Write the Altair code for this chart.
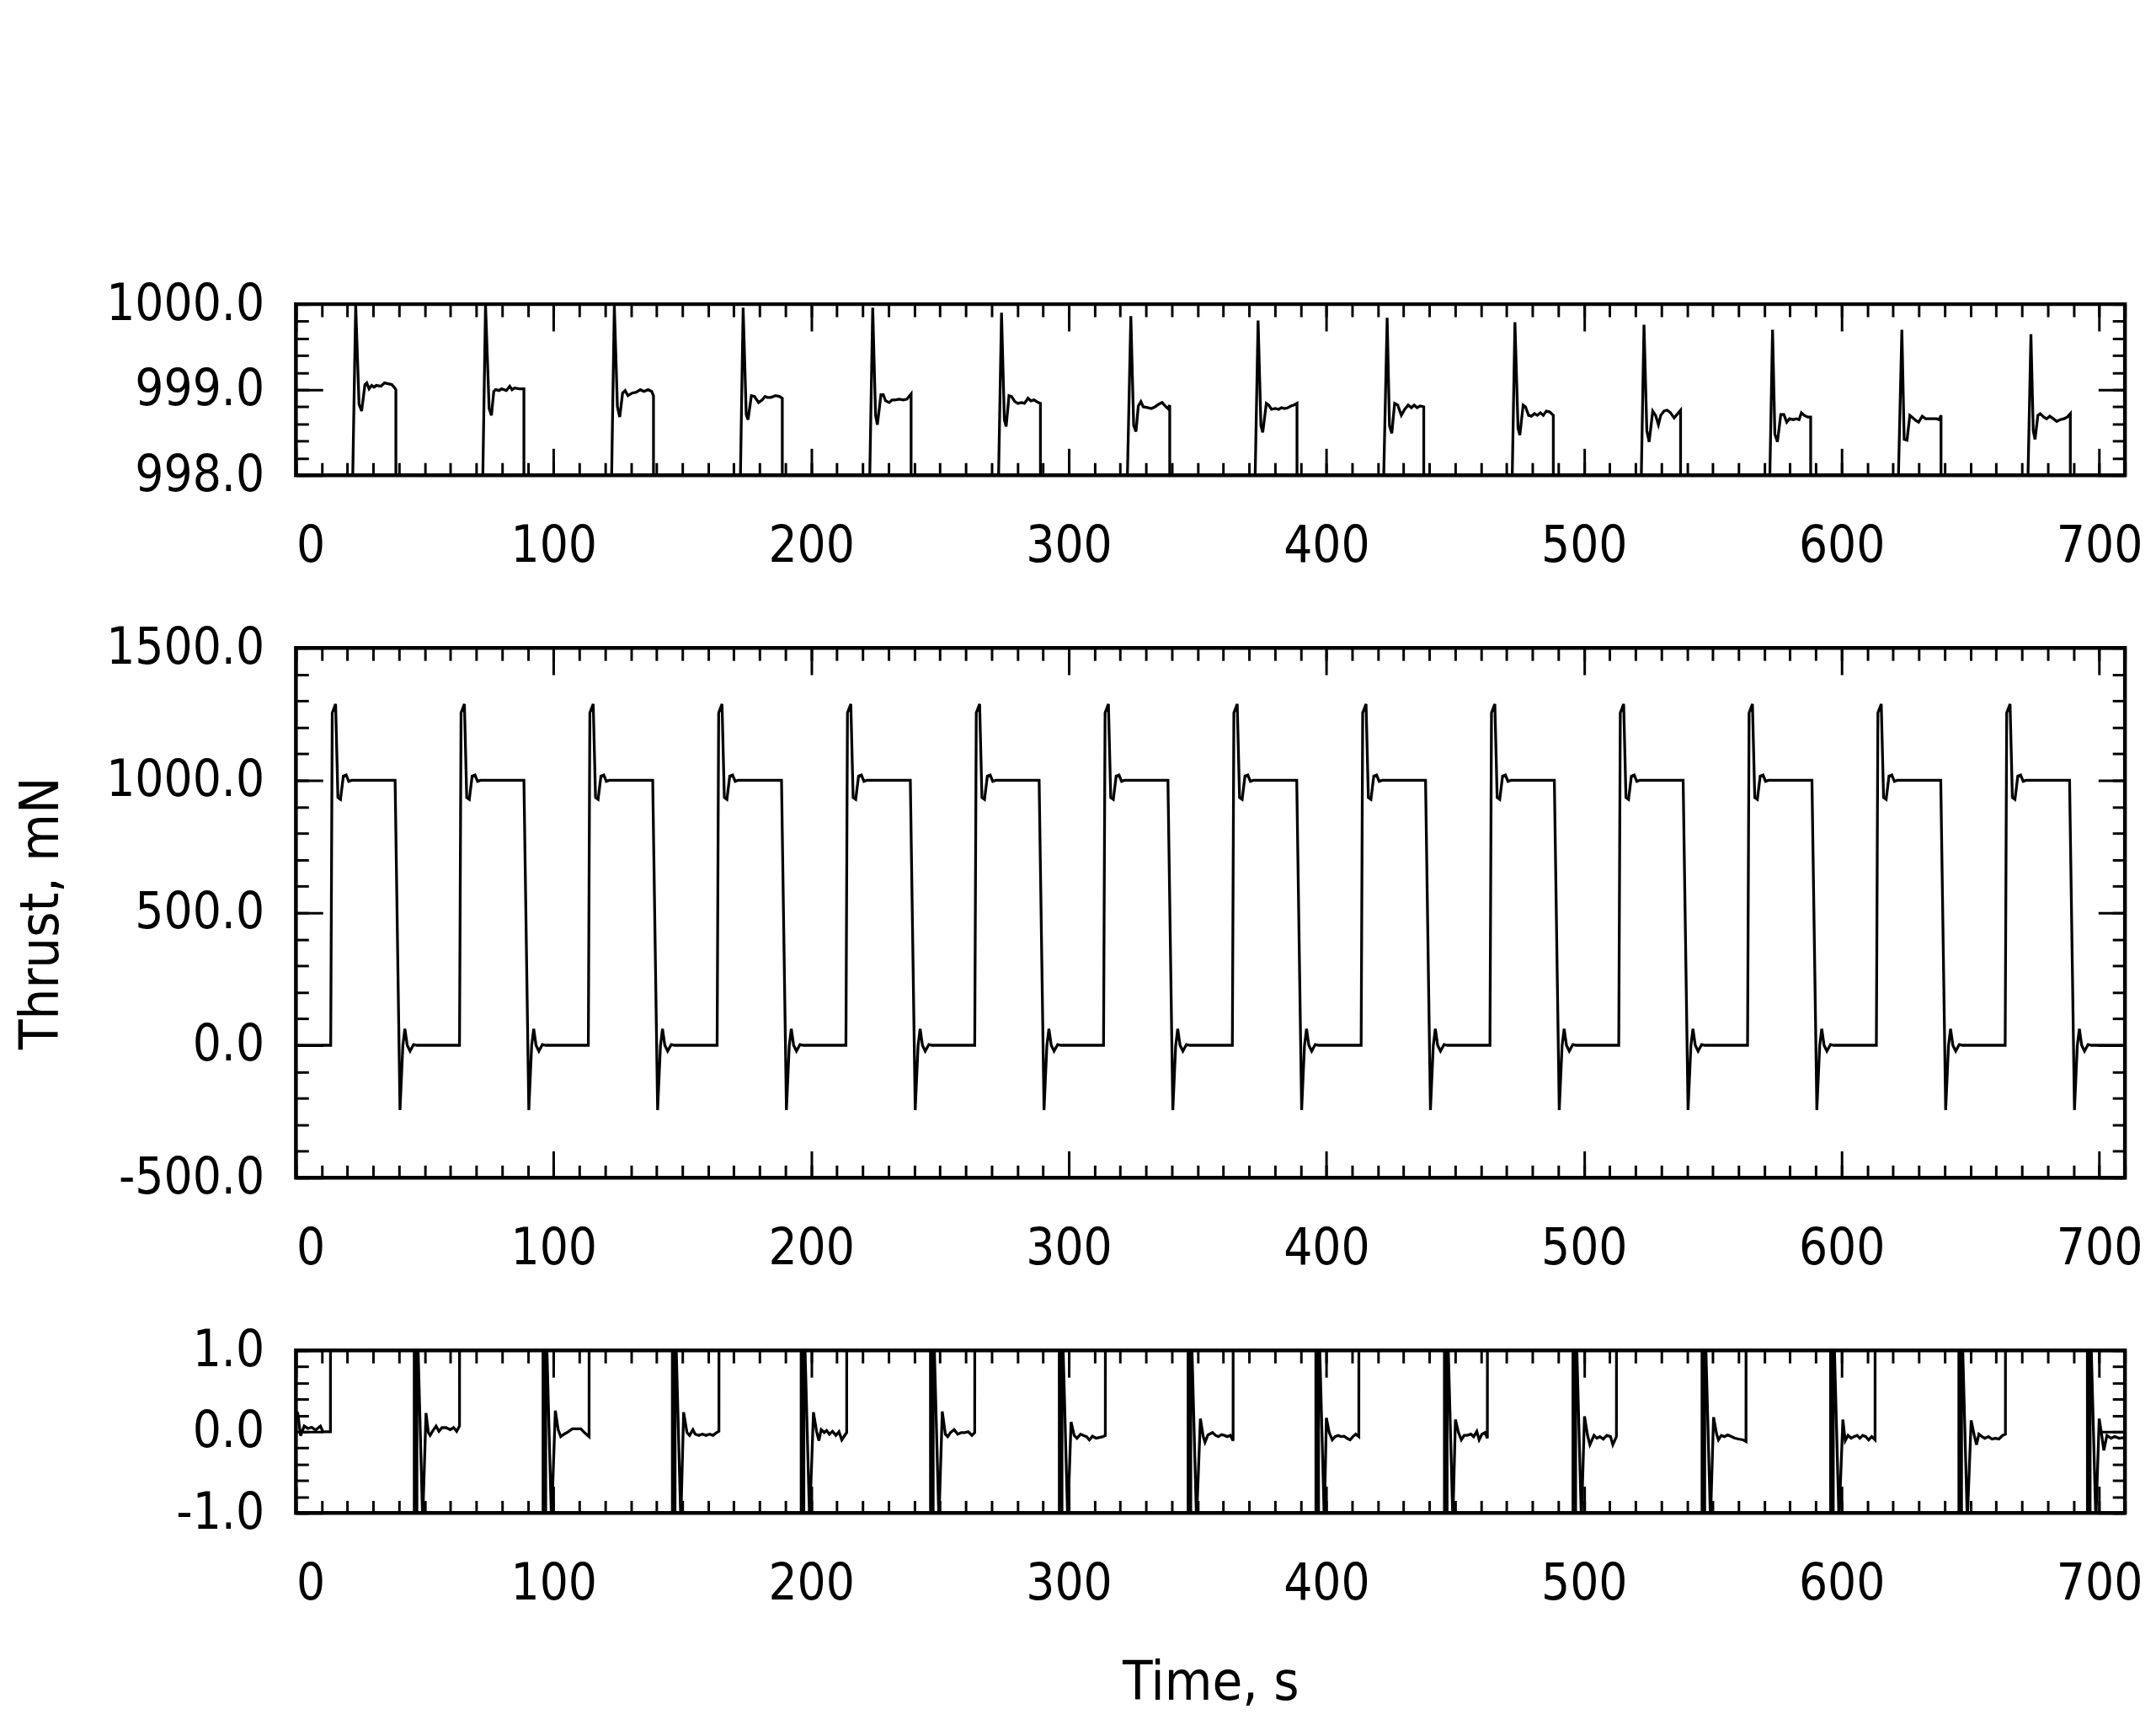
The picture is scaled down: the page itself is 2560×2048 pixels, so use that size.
import altair as alt
import pandas as pd

FONT = "DejaVu Sans Condensed, DejaVu Sans"

# ---------------- x axis ----------------
x_domain = [0, 710]
x_major = [0, 100, 200, 300, 400, 500, 600, 700]
x_minor = list(range(0, 711, 10))

# ---------------- top panel (998..1000 mN) ----------------
top_start_t = [0.0]
top_start_v = [0.0]
top_cycles_t = [
    [21.95, 22.0, 23.2, 24.5, 25.5, 26.8, 27.5, 28.4, 29.4, 30.3, 31.2, 33.0, 34.4, 35.8, 37.2, 38.1, 38.8, 38.85],
    [72.45, 72.5, 73.6, 75.0, 75.9, 76.8, 77.5, 78.9, 79.8, 81.7, 83.0, 83.9, 84.9, 86.7, 88.5, 88.55],
    [122.45, 122.5, 123.6, 124.8, 125.7, 126.8, 127.8, 128.9, 130.5, 132.1, 133.7, 135.1, 136.7, 138.1, 138.8, 138.85],
    [172.45, 172.5, 173.6, 174.8, 175.5, 176.8, 178.0, 179.6, 181.0, 182.1, 183.0, 184.4, 186.2, 187.8, 188.8, 188.85],
    [222.65, 222.7, 223.9, 225.0, 225.7, 227.1, 228.0, 228.9, 230.3, 231.4, 232.6, 234.2, 235.8, 237.2, 238.8, 238.85],
    [272.65, 272.7, 273.9, 275.0, 275.7, 276.8, 277.8, 279.1, 280.3, 281.7, 282.8, 284.2, 285.3, 286.5, 288.1, 289.0, 289.05],
    [322.65, 322.7, 324.1, 325.2, 326.1, 327.0, 328.0, 328.9, 330.5, 332.1, 333.5, 334.9, 336.2, 337.4, 338.5, 339.2, 339.25],
    [372.25, 372.3, 373.5, 374.6, 375.3, 376.7, 377.6, 378.7, 380.1, 381.5, 382.6, 383.8, 385.1, 386.3, 387.4, 388.6, 388.65],
    [422.15, 422.2, 423.6, 424.5, 425.4, 426.5, 427.7, 429.1, 430.4, 431.8, 433.0, 434.1, 435.2, 436.4, 437.8, 437.85],
    [472.05, 472.1, 473.2, 474.4, 475.1, 476.4, 477.3, 478.5, 479.6, 480.8, 481.9, 483.1, 484.2, 485.4, 486.7, 488.1, 488.15],
    [522.15, 522.2, 523.3, 524.4, 525.3, 526.7, 527.8, 528.9, 529.8, 531.1, 532.3, 533.6, 535.0, 536.4, 537.5, 537.55],
    [572.05, 572.1, 573.2, 574.1, 575.1, 576.4, 577.6, 578.7, 579.8, 581.2, 582.4, 583.5, 584.4, 585.5, 586.9, 588.0, 588.05],
    [621.95, 622.0, 623.4, 624.3, 625.4, 626.5, 627.7, 628.8, 629.9, 631.3, 632.6, 634.0, 635.5, 636.8, 637.9, 638.6, 638.65],
    [672.25, 672.3, 673.5, 674.4, 675.1, 676.2, 677.1, 678.5, 679.6, 680.8, 682.2, 683.5, 684.9, 686.3, 687.6, 688.8, 688.85],
]
top_cycles_v = [
    [0, 997.9, 999.99, 998.83, 998.75, 999.06, 999.08, 999.01, 999.05, 999.03, 999.05, 999.04, 999.08, 999.07, 999.06, 999.03, 999.00, 0],
    [0, 997.9, 999.99, 998.78, 998.70, 998.98, 999.00, 998.99, 999.01, 998.99, 999.04, 999.00, 999.02, 999.01, 999.01, 0],
    [0, 997.9, 999.98, 998.80, 998.68, 998.96, 998.99, 998.93, 998.96, 998.97, 999.00, 998.98, 999.00, 998.98, 998.93, 0],
    [0, 997.9, 999.96, 998.71, 998.65, 998.93, 998.92, 998.85, 998.88, 998.92, 998.91, 998.91, 998.93, 998.92, 998.90, 0],
    [0, 997.9, 999.96, 998.70, 998.59, 998.94, 998.94, 998.87, 998.85, 998.88, 998.88, 998.89, 998.88, 998.89, 998.95, 0],
    [0, 997.9, 999.90, 998.65, 998.57, 998.93, 998.92, 998.86, 998.84, 998.85, 998.84, 998.90, 998.87, 998.88, 998.85, 998.84, 0],
    [0, 997.9, 999.86, 998.58, 998.51, 998.81, 998.86, 998.80, 998.79, 998.78, 998.80, 998.83, 998.85, 998.81, 998.78, 998.82, 0],
    [0, 997.9, 999.81, 998.58, 998.50, 998.84, 998.82, 998.77, 998.78, 998.77, 998.79, 998.78, 998.79, 998.81, 998.82, 998.84, 0],
    [0, 997.9, 999.84, 998.58, 998.49, 998.84, 998.82, 998.70, 998.77, 998.82, 998.79, 998.82, 998.79, 998.81, 998.80, 0],
    [0, 997.9, 999.79, 998.55, 998.47, 998.82, 998.80, 998.70, 998.69, 998.72, 998.70, 998.73, 998.70, 998.75, 998.74, 998.70, 0],
    [0, 997.9, 999.76, 998.52, 998.39, 998.75, 998.70, 998.59, 998.70, 998.75, 998.76, 998.73, 998.67, 998.72, 998.76, 0],
    [0, 997.9, 999.70, 998.48, 998.39, 998.71, 998.71, 998.62, 998.66, 998.65, 998.66, 998.65, 998.73, 998.70, 998.68, 998.68, 0],
    [0, 997.9, 999.70, 998.42, 998.41, 998.70, 998.67, 998.64, 998.62, 998.69, 998.66, 998.66, 998.66, 998.66, 998.65, 998.70, 0],
    [0, 997.9, 999.65, 998.52, 998.42, 998.70, 998.72, 998.68, 998.66, 998.69, 998.66, 998.63, 998.65, 998.66, 998.68, 998.72, 0],
]
top_end_t = [710.0]
top_end_v = [0.0]
top_domain = [998.0, 1000.0]
top_major = [998.0, 999.0, 1000.0]
top_minor = [998.0, 998.2, 998.4, 998.6, 998.8, 999.0, 999.2, 999.4, 999.6, 999.8, 1000.0]

# ---------------- middle panel (thrust, mN) ----------------
mid_cycle_start = [0, 50, 100, 150, 200, 250, 300, 350, 400, 450, 500, 550, 600, 650]
mid_shape_t = [13.5, 14.1, 15.4, 16.3, 17.3, 18.4, 19.5, 20.5, 21.6, 38.5, 40.4, 41.5, 42.3, 43.2, 44.3, 45.7, 47.0]
mid_shape_v = [0, 1255, 1288, 935, 928, 1016, 1020, 996, 1000, 1000, -245, -2, 62, 0, -22, 3, 0]
mid_start_t = [0.0]
mid_start_v = [0.0]
mid_end_t = [710.0]
mid_end_v = [0.0]
mid_domain = [-500.0, 1500.0]
mid_major = [-500.0, 0.0, 500.0, 1000.0, 1500.0]
mid_minor = [-500, -400, -300, -200, -100, 0, 100, 200, 300, 400, 500, 600, 700,
             800, 900, 1000, 1100, 1200, 1300, 1400, 1500]

# ---------------- bottom panel (-1..1 mN) ----------------
bot_first_t = [0.0, 0.7, 1.8, 3.2, 4.7, 6.1, 7.6, 9.5, 10.5, 13.4, 13.45]
bot_first_v = [0.25, 0.23, -0.05, 0.07, 0.04, 0.055, 0.02, 0.07, 0.0, 0.0, 3.0]
bot_fall = [45.9, 95.9, 146.1, 196.1, 246.3, 296.3, 346.3, 395.9, 445.8, 495.7, 545.8, 595.7, 645.5, 695.4]
# shape of the double spike after each fall (offsets in s, values in mN; off-scale ones are clipped)
bot_spike_dt = [0.0, 0.05, 1.05, 1.1, 1.5, 3.3]
bot_spike_v = [3.0, -3.0, -3.0, 3.0, 1.05, -1.1]
bot_settle_t = [
    [50.5, 51.4, 52.1, 53.0, 54.4, 55.5, 56.7, 58.3, 59.9, 61.2, 62.4, 63.5, 63.55],
    [100.7, 101.8, 102.8, 104.1, 105.7, 107.3, 109.2, 110.6, 112.0, 113.8, 113.85],
    [150.5, 151.8, 152.8, 154.1, 155.0, 156.4, 157.8, 159.2, 160.6, 161.9, 163.3, 164.2, 164.25],
    [200.9, 202.1, 203.0, 203.9, 205.1, 206.0, 207.1, 208.3, 209.6, 210.8, 211.9, 213.8, 213.85],
    [250.9, 252.1, 253.0, 254.1, 255.5, 256.9, 258.3, 259.6, 261.0, 262.4, 263.5, 263.55],
    [300.9, 302.1, 303.2, 304.6, 305.7, 306.9, 308.0, 309.2, 310.6, 311.9, 313.3, 314.2, 314.25],
    [351.1, 352.2, 352.9, 354.0, 355.8, 357.0, 358.1, 359.3, 360.4, 361.5, 362.7, 363.8, 363.85],
    [400.0, 401.1, 402.3, 403.4, 404.6, 405.7, 406.9, 408.0, 409.2, 410.3, 411.4, 412.6, 412.65],
    [450.1, 451.3, 452.4, 453.5, 454.7, 456.1, 457.2, 458.4, 459.3, 460.4, 461.6, 462.5, 462.55],
    [500.2, 501.4, 502.3, 503.9, 505.0, 506.2, 507.5, 508.9, 510.3, 511.2, 512.6, 512.65],
    [550.3, 551.5, 552.2, 553.3, 554.5, 555.8, 557.2, 558.6, 560.0, 561.8, 562.9, 562.95],
    [600.5, 601.4, 602.5, 603.7, 604.8, 606.0, 607.1, 608.2, 609.4, 610.5, 611.7, 613.0, 613.05],
    [650.3, 651.5, 652.4, 653.3, 654.5, 655.6, 657.0, 658.4, 659.7, 661.1, 662.5, 663.6, 663.65],
    [700.0, 701.0, 701.8, 703.0, 704.6, 706.0, 707.8, 710.0],
]
bot_settle_v = [
    [0.23, -0.01, -0.045, 0.005, 0.07, 0.005, 0.05, 0.05, 0.025, 0.05, 0.005, 0.07, 3.0],
    [0.26, 0.025, -0.06, -0.03, 0.0, 0.035, 0.035, 0.035, -0.01, -0.06, 3.0],
    [0.24, -0.01, -0.045, 0.025, -0.03, -0.045, -0.03, -0.045, -0.03, -0.045, -0.01, 0.005, 3.0],
    [0.24, 0.005, -0.11, 0.025, -0.01, 0.015, -0.03, 0.005, -0.045, 0.0, -0.1, -0.01, 3.0],
    [0.25, -0.03, -0.06, -0.01, 0.025, -0.03, -0.01, -0.01, 0.0, -0.045, -0.01, 3.0],
    [0.12, -0.045, -0.08, -0.03, -0.045, -0.06, -0.1, -0.055, -0.08, -0.07, -0.06, -0.045, 3.0],
    [0.16, -0.06, -0.13, -0.04, -0.01, -0.045, -0.06, -0.035, -0.045, -0.06, -0.045, -0.11, 3.0],
    [0.17, -0.01, -0.1, -0.06, -0.045, -0.06, -0.055, -0.08, -0.1, -0.06, -0.03, -0.06, 3.0],
    [0.15, -0.01, -0.1, -0.045, -0.045, -0.03, -0.06, 0.005, -0.1, -0.03, -0.01, -0.08, 3.0],
    [0.19, -0.045, -0.16, -0.045, -0.08, -0.06, -0.09, -0.045, -0.06, -0.16, -0.06, 3.0],
    [0.18, -0.03, -0.1, -0.045, -0.06, -0.04, -0.06, -0.08, -0.09, -0.1, -0.12, 3.0],
    [0.15, -0.11, -0.045, -0.08, -0.06, -0.045, -0.08, -0.045, -0.06, -0.1, -0.06, -0.1, 3.0],
    [0.14, -0.045, -0.16, -0.03, -0.06, -0.08, -0.06, -0.09, -0.08, -0.09, -0.045, -0.03, 3.0],
    [0.16, -0.045, -0.23, -0.045, -0.08, -0.06, -0.08, -0.07],
]
bot_domain = [-1.0, 1.0]
bot_major = [-1.0, 0.0, 1.0]
bot_minor = [-1.0, -0.8, -0.6, -0.4, -0.2, 0.0, 0.2, 0.4, 0.6, 0.8, 1.0]

# ---------------- build tables ----------------
def table(ts, vs):
    return pd.DataFrame({"t": ts, "v": vs, "i": list(range(len(ts)))})

tt, tv = list(top_start_t), list(top_start_v)
for ct, cv in zip(top_cycles_t, top_cycles_v):
    tt += ct
    tv += cv
tt += top_end_t
tv += top_end_v
top_df = table(tt, tv)

mt, mv = list(mid_start_t), list(mid_start_v)
for s in mid_cycle_start:
    mt += [s + d for d in mid_shape_t]
    mv += list(mid_shape_v)
mt += mid_end_t
mv += mid_end_v
mid_df = table(mt, mv)

bt, bv = list(bot_first_t), list(bot_first_v)
for f, st, sv in zip(bot_fall, bot_settle_t, bot_settle_v):
    bt += [f + d for d in bot_spike_dt]
    bv += list(bot_spike_v)
    bt += st
    bv += sv
bot_df = table(bt, bv)

MAJ = 32
MIN = 15
LABEL_SIZE = 60
TITLE_SIZE = 65
W = 2182

def panel(df, ydom, ymaj, ymin, h, xtitle=None, ytitle=None):
    xs = alt.Scale(domain=x_domain, nice=False, zero=False)
    ys = alt.Scale(domain=ydom, nice=False, zero=False)
    ylab = "replace(format(datum.value, '.1f'), '\u2212', '-')"

    xa_main = dict(orient="bottom", values=x_major, tickSize=MAJ, offset=-MAJ,
                   labelPadding=56, format="d", domain=False, grid=False, labelLimit=1000,
                   labelFontSize=LABEL_SIZE, labelFont=FONT, labelColor="black",
                   tickColor="black", tickWidth=3)
    if xtitle:
        xa_main.update(title=xtitle, titleFontSize=TITLE_SIZE, titleFont=FONT,
                       titleFontWeight="normal", titleColor="black", titlePadding=56)
    else:
        xa_main.update(title=None)
    ya_main = dict(orient="left", values=ymaj, tickSize=MAJ, offset=-MAJ,
                   labelPadding=38, labelExpr=ylab, domain=False, grid=False, labelLimit=1000,
                   labelFontSize=LABEL_SIZE, labelFont=FONT, labelColor="black",
                   tickColor="black", tickWidth=3)
    if ytitle:
        ya_main.update(title=ytitle, titleFontSize=TITLE_SIZE, titleFont=FONT,
                       titleFontWeight="normal", titleColor="black", titlePadding=102)
    else:
        ya_main.update(title=None)

    base = alt.Chart(df)
    line = base.mark_line(color="black", strokeWidth=3.3, clip=True).encode(
        x=alt.X("t:Q", scale=xs, axis=alt.Axis(**xa_main)),
        y=alt.Y("v:Q", scale=ys, axis=alt.Axis(**ya_main)),
        order="i:Q",
    )

    def ghost(xo, yo, xv, yv, size):
        return base.mark_line(opacity=0, clip=True).encode(
            x=alt.X("t:Q", scale=xs, axis=alt.Axis(orient=xo, values=xv, tickSize=size, offset=-size,
                                                    labels=False, domain=False, grid=False, title=None,
                                                    tickColor="black", tickWidth=3)),
            y=alt.Y("v:Q", scale=ys, axis=alt.Axis(orient=yo, values=yv, tickSize=size, offset=-size,
                                                    labels=False, domain=False, grid=False, title=None,
                                                    tickColor="black", tickWidth=3)),
            order="i:Q",
        )

    layers = [
        line,
        ghost("bottom", "left", x_minor, ymin, MIN),
        ghost("top", "right", x_major, ymaj, MAJ),
        ghost("top", "right", x_minor, ymin, MIN),
    ]
    return alt.layer(*layers).resolve_axis(x="independent", y="independent").properties(width=W, height=h)

top = panel(top_df, top_domain, top_major, top_minor, 204)
mid = panel(mid_df, mid_domain, mid_major, mid_minor, 632, ytitle="Thrust, mN")
bot = panel(bot_df, bot_domain, bot_major, bot_minor, 194, xtitle="Time, s")

chart = alt.vconcat(top, mid, bot, spacing=206, bounds="flush").properties(
    padding={"left": 6, "top": 317, "right": 5, "bottom": 5},
    background="white",
).configure_view(
    stroke="black", strokeWidth=4.5
).configure_axis(
    tickColor="black", tickWidth=3
)

chart.save("out.html", embed_options={"renderer": "svg", "actions": False})
